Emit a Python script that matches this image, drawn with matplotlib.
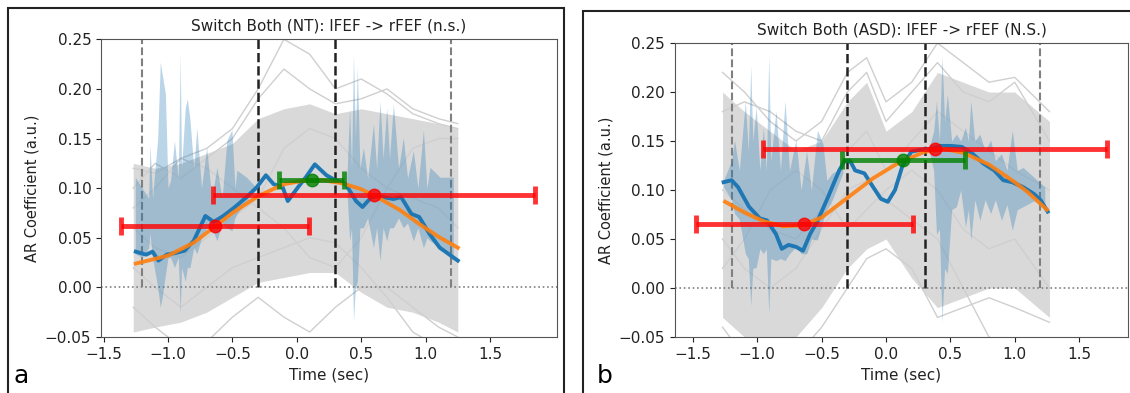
import matplotlib
matplotlib.use("Agg")
import matplotlib.pyplot as plt
from matplotlib.patches import Rectangle

# ---- panel a (NT) ----
a_title = "Switch Both (NT): lFEF -> rFEF (n.s.)"
a_xlim = (-1.52, 2.02)

# gray subject cloud: dense core + a few visible traces
a_gx = [-1.27, -1.1, -0.9, -0.7, -0.5, -0.3, -0.1, 0.1, 0.3, 0.5, 0.7, 0.9, 1.1, 1.25]
a_core_hi = [0.125, 0.12, 0.125, 0.135, 0.145, 0.17, 0.18, 0.185, 0.175, 0.18, 0.175, 0.17, 0.165, 0.16]
a_core_lo = [-0.045, -0.04, -0.035, -0.025, -0.01, 0.005, 0.01, 0.015, 0.015, -0.005, -0.02, -0.025, -0.035, -0.045]
a_traces = [
    [0.12, 0.115, 0.13, 0.14, 0.16, 0.2, 0.25, 0.235, 0.2, 0.21, 0.195, 0.175, 0.165, 0.16],
    [0.10, 0.125, 0.11, 0.13, 0.15, 0.19, 0.22, 0.2, 0.185, 0.19, 0.2, 0.18, 0.17, 0.165],
    [0.02, 0.0, -0.02, 0.0, 0.02, 0.03, 0.04, 0.05, 0.045, 0.02, -0.01, -0.045, -0.06, -0.07],
    [-0.02, -0.04, -0.06, -0.055, -0.03, -0.01, -0.03, -0.045, -0.02, 0.0, 0.0, -0.02, -0.04, -0.05],
    [0.06, 0.04, 0.03, 0.05, 0.07, 0.09, 0.14, 0.16, 0.15, 0.12, 0.1, 0.09, 0.08, 0.06],
    [0.08, 0.1, 0.13, 0.12, 0.1, 0.08, 0.06, 0.03, 0.02, 0.05, 0.1, 0.14, 0.15, 0.15],
]

# blue group mean and its spiky band (two segments)
a_mx = [-1.25, -1.17, -1.12, -1.075, -1.01, -0.93, -0.87, -0.80, -0.71, -0.645, -0.57, -0.48,
        -0.39, -0.31, -0.24, -0.18, -0.11, -0.07, 0.01, 0.07, 0.14, 0.23, 0.30, 0.38, 0.46,
        0.51, 0.58, 0.67, 0.75, 0.81, 0.89, 0.95, 1.03, 1.11, 1.25]
a_my = [0.036, 0.033, 0.036, 0.027, 0.033, 0.035, 0.037, 0.047, 0.072, 0.066, 0.072, 0.081,
        0.091, 0.101, 0.113, 0.104, 0.101, 0.087, 0.101, 0.111, 0.124, 0.113, 0.108, 0.104, 0.087,
        0.081, 0.091, 0.091, 0.089, 0.091, 0.074, 0.071, 0.054, 0.040, 0.027]
a_b1x = [-1.254, -1.20, -1.15, -1.14, -1.12, -1.08, -1.06, -1.045, -1.02, -1.0, -0.98, -0.95,
         -0.92, -0.905, -0.895, -0.866, -0.85, -0.83, -0.80, -0.776, -0.74, -0.70, -0.66,
         -0.62, -0.58, -0.543, -0.504, -0.48, -0.465, -0.39, -0.31]
a_b1hi = [0.111, 0.10, 0.09, 0.144, 0.09, 0.15, 0.227, 0.215, 0.195, 0.10, 0.108, 0.148,
          0.11, 0.235, 0.12, 0.181, 0.19, 0.17, 0.12, 0.161, 0.10, 0.141, 0.09,
          0.121, 0.09, 0.148, 0.159, 0.10, 0.118, 0.111, 0.10]
a_b1lo = [0.034, 0.03, 0.04, 0.054, 0.03, 0.0, -0.020, -0.01, 0.013, 0.03, 0.030, 0.02,
          0.03, -0.027, 0.02, 0.006, 0.02, 0.02, 0.04, 0.034, 0.05, 0.060, 0.06,
          0.047, 0.065, 0.060, 0.057, 0.07, 0.074, 0.087, 0.10]
a_b2x = [0.388, 0.41, 0.425, 0.44, 0.455, 0.47, 0.49, 0.517, 0.55, 0.595, 0.62, 0.646, 0.67,
         0.698, 0.72, 0.75, 0.79, 0.827, 0.86, 0.905, 0.94, 0.983, 1.01, 1.034, 1.112, 1.215]
a_b2hi = [0.108, 0.181, 0.12, 0.235, 0.15, 0.222, 0.12, 0.141, 0.11, 0.165, 0.12, 0.188, 0.13,
          0.181, 0.13, 0.185, 0.12, 0.151, 0.11, 0.138, 0.10, 0.159, 0.10, 0.121, 0.111, 0.111]
a_b2lo = [0.101, 0.047, 0.06, -0.034, 0.0, 0.006, 0.06, 0.060, 0.07, 0.040, 0.06, 0.027, 0.06,
          0.047, 0.06, 0.060, 0.07, 0.060, 0.065, 0.047, 0.06, 0.040, 0.05, 0.047, 0.040, 0.027]

# orange fit
a_fx = [-1.25, -1.0, -0.8, -0.65, -0.5, -0.3, -0.1, 0.05, 0.2, 0.35, 0.5, 0.65, 0.8, 0.95, 1.1, 1.25]
a_fy = [0.024, 0.032, 0.045, 0.060, 0.075, 0.092, 0.104, 0.1075, 0.108, 0.105, 0.099, 0.089,
        0.078, 0.064, 0.051, 0.040]

# error bars: (center, y, half width)
a_red = [(-0.635, 0.062, 0.73), (0.603, 0.093, 1.25)]
a_green = [(0.115, 0.108, 0.255)]

# ---- panel b (ASD) ----
b_title = "Switch Both (ASD): lFEF -> rFEF (N.S.)"
b_xlim = (-1.64, 1.88)

b_gx = [-1.27, -1.1, -0.9, -0.7, -0.5, -0.3, -0.15, 0.0, 0.2, 0.4, 0.6, 0.8, 1.0, 1.27]
b_core_hi = [0.20, 0.18, 0.16, 0.14, 0.15, 0.19, 0.21, 0.16, 0.18, 0.22, 0.21, 0.20, 0.20, 0.17]
b_core_lo = [-0.03, -0.05, -0.05, -0.05, -0.02, 0.02, 0.04, 0.05, 0.01, -0.02, -0.01, 0.0, 0.0, -0.03]
b_traces = [
    [0.22, 0.2, 0.17, 0.15, 0.17, 0.22, 0.235, 0.19, 0.21, 0.25, 0.23, 0.21, 0.215, 0.18],
    [0.18, 0.19, 0.18, 0.16, 0.15, 0.2, 0.22, 0.17, 0.2, 0.23, 0.2, 0.19, 0.21, 0.15],
    [0.05, 0.02, 0.0, 0.02, 0.06, 0.1, 0.11, 0.09, 0.07, 0.05, 0.0, -0.05, -0.06, -0.07],
    [-0.04, -0.07, -0.08, -0.07, -0.04, 0.0, 0.03, 0.04, 0.02, -0.03, -0.02, -0.01, -0.02, -0.035],
    [0.1, 0.08, 0.06, 0.05, 0.08, 0.14, 0.16, 0.12, 0.15, 0.18, 0.16, 0.14, 0.12, 0.1],
    [0.02, 0.05, 0.1, 0.12, 0.1, 0.06, 0.08, 0.1, 0.12, 0.1, 0.06, 0.04, 0.05, 0.0],
]

b_mx = [-1.262, -1.2, -1.15, -1.065, -0.98, -0.925, -0.855, -0.81, -0.757, -0.70, -0.645,
        -0.59, -0.53, -0.45, -0.364, -0.32, -0.28, -0.24, -0.168, -0.10, -0.04, 0.014, 0.07,
        0.126, 0.196, 0.266, 0.336, 0.42, 0.505, 0.589, 0.673, 0.757, 0.841, 0.911, 0.98,
        1.065, 1.15, 1.205, 1.256]
b_my = [0.108, 0.110, 0.103, 0.083, 0.071, 0.069, 0.055, 0.040, 0.044, 0.042, 0.038,
        0.055, 0.069, 0.093, 0.120, 0.130, 0.130, 0.120, 0.117, 0.103, 0.091, 0.088, 0.100,
        0.124, 0.139, 0.141, 0.142, 0.145, 0.145, 0.144, 0.137, 0.127, 0.120, 0.110, 0.108,
        0.103, 0.096, 0.089, 0.078]
b_b1x = [-1.262, -1.2, -1.177, -1.14, -1.093, -1.07, -1.051, -1.035, -1.009, -0.98, -0.953,
         -0.93, -0.911, -0.895, -0.855, -0.82, -0.785, -0.75, -0.70, -0.66, -0.617, -0.58,
         -0.533, -0.49, -0.46, -0.42, -0.336]
b_b1hi = [0.110, 0.13, 0.151, 0.12, 0.191, 0.14, 0.227, 0.15, 0.185, 0.12, 0.164,
          0.12, 0.237, 0.13, 0.181, 0.12, 0.191, 0.12, 0.151, 0.10, 0.140, 0.10,
          0.161, 0.147, 0.11, 0.117, 0.123]
b_b1lo = [0.103, 0.09, 0.076, 0.07, 0.035, 0.03, -0.018, 0.02, 0.021, 0.04, 0.035,
          0.04, -0.026, 0.03, 0.028, 0.03, 0.028, 0.035, 0.042, 0.035, 0.035, 0.05,
          0.049, 0.069, 0.08, 0.089, 0.117]
b_b2x = [0.336, 0.37, 0.392, 0.415, 0.435, 0.455, 0.477, 0.51, 0.547, 0.58, 0.617, 0.64, 0.659,
         0.69, 0.729, 0.77, 0.813, 0.85, 0.897, 0.94, 0.981, 1.02, 1.065, 1.15, 1.234]
b_b2hi = [0.144, 0.16, 0.191, 0.15, 0.237, 0.17, 0.198, 0.15, 0.157, 0.15, 0.164, 0.15, 0.191,
          0.15, 0.157, 0.14, 0.151, 0.13, 0.137, 0.12, 0.161, 0.12, 0.123, 0.113, 0.103]
b_b2lo = [0.140, 0.12, 0.055, 0.06, -0.035, 0.02, 0.015, 0.08, 0.083, 0.10, 0.062, 0.08, 0.049,
          0.09, 0.069, 0.09, 0.076, 0.09, 0.069, 0.085, 0.059, 0.08, 0.083, 0.089, 0.083]

b_fx = [-1.25, -1.1, -0.95, -0.8, -0.65, -0.5, -0.3, -0.1, 0.1, 0.3, 0.45, 0.6, 0.8, 1.0, 1.1, 1.25]
b_fy = [0.088, 0.077, 0.068, 0.063, 0.064, 0.072, 0.092, 0.112, 0.128, 0.139, 0.142, 0.138,
        0.126, 0.108, 0.098, 0.080]

b_red = [(-0.635, 0.065, 0.845), (0.381, 0.1415, 1.337)]
b_green = [(0.1345, 0.131, 0.477)]

# window markers
outer_win = [-1.2, 1.2]
inner_win = [-0.3, 0.3]


def draw_panel(ax, title, xlim, gx, core_hi, core_lo, traces, mx, my, bands, fx, fy, red, green):
    ax.fill_between(gx, core_lo, core_hi, color="#d9d9d9", lw=0, zorder=1)
    for tr in traces:
        ax.plot(gx, tr, color="#cfcfcf", lw=1, zorder=1.5)
    ax.axhline(0, color="gray", ls=":", lw=1.2, zorder=2)
    ax.vlines(outer_win, 0, 0.25, color="gray", ls="--", lw=1.5, zorder=2)
    ax.vlines(inner_win, 0, 0.25, color="#222222", ls="--", lw=1.8, zorder=2)
    for bx, bhi, blo in bands:
        ax.fill_between(bx, blo, bhi, color="C0", alpha=0.3, lw=0, zorder=3)
    ax.plot(mx, my, color="C0", lw=2.8, zorder=4)
    ax.plot(fx, fy, color="C1", lw=2.8, alpha=0.9, zorder=5)
    for cx, cy, e in red:
        ax.errorbar(cx, cy, xerr=e, fmt="o", color="red", alpha=0.8, lw=3.5, ms=9,
                    capsize=6.5, capthick=3.5, zorder=6)
    for cx, cy, e in green:
        ax.errorbar(cx, cy, xerr=e, fmt="o", color="green", alpha=0.8, lw=3.5, ms=9,
                    capsize=6.5, capthick=3.5, zorder=6)
    ax.set_xlim(xlim)
    ax.set_ylim(-0.05, 0.25)
    ax.set_xticks([-1.5, -1.0, -0.5, 0.0, 0.5, 1.0, 1.5])
    ax.set_yticks([-0.05, 0.0, 0.05, 0.1, 0.15, 0.2, 0.25])
    ax.set_title(title, fontsize=11, color="#222222")
    ax.set_xlabel("Time (sec)", fontsize=11, color="#222222")
    ax.set_ylabel("AR Coefficient (a.u.)", fontsize=10.5, color="#222222")
    ax.tick_params(labelsize=11, colors="#222222")
    for s in ax.spines.values():
        s.set_color("#555555")


fig = plt.figure(figsize=(11.3, 3.93), dpi=100)
ax1 = fig.add_axes([0.0894, 0.1425, 0.4035, 0.7575])
ax2 = fig.add_axes([0.5973, 0.1425, 0.4009, 0.748])

draw_panel(ax1, a_title, a_xlim, a_gx, a_core_hi, a_core_lo, a_traces, a_mx, a_my,
           [(a_b1x, a_b1hi, a_b1lo), (a_b2x, a_b2hi, a_b2lo)], a_fx, a_fy, a_red, a_green)
draw_panel(ax2, b_title, b_xlim, b_gx, b_core_hi, b_core_lo, b_traces, b_mx, b_my,
           [(b_b1x, b_b1hi, b_b1lo), (b_b2x, b_b2hi, b_b2lo)], b_fx, b_fy, b_red, b_green)

# boxes around the two sub-figures
fig.add_artist(Rectangle((0.007, -0.1), 0.492, 1.08, transform=fig.transFigure,
                         fill=False, ec="#222222", lw=1.5))
fig.add_artist(Rectangle((0.516, -0.1), 0.6, 1.072, transform=fig.transFigure,
                         fill=False, ec="#222222", lw=1.5))
fig.text(0.012, 0.025, "a", fontsize=18)
fig.text(0.528, 0.025, "b", fontsize=18)

fig.savefig("out.png", dpi=100)
